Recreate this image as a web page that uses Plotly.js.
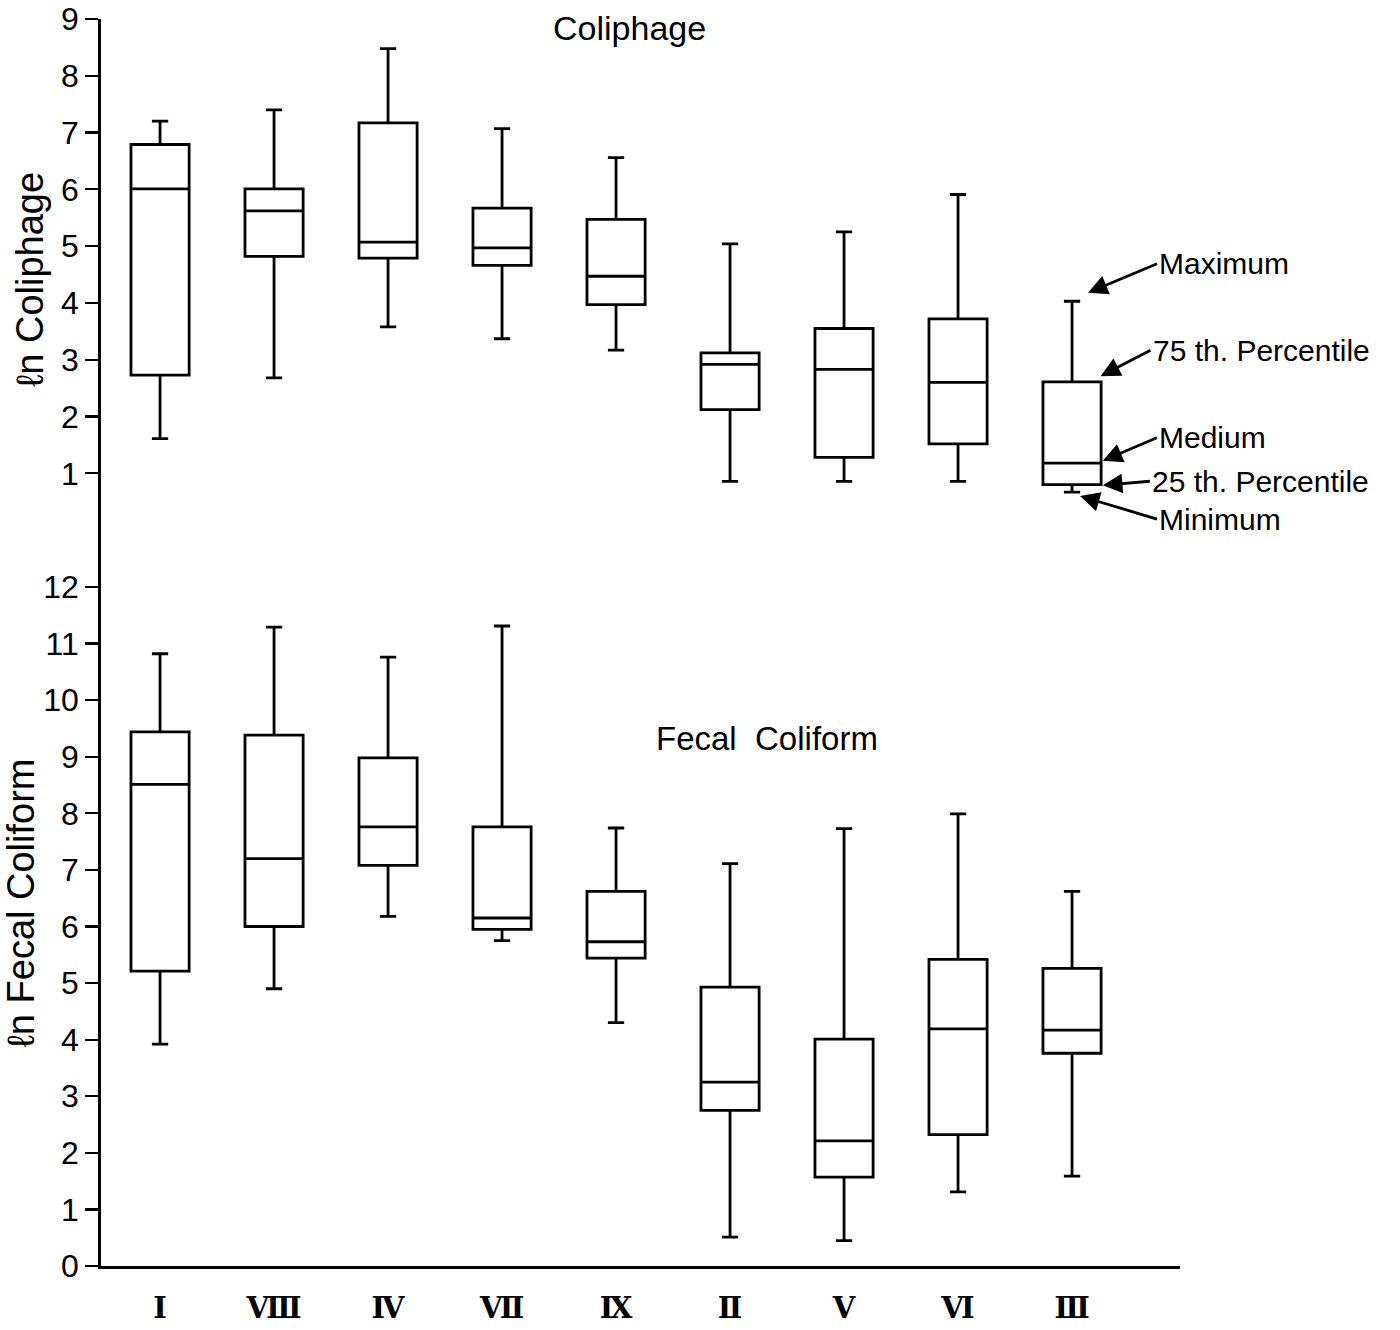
<!DOCTYPE html>
<html>
<head>
<meta charset="utf-8">
<script src="https://cdn.plot.ly/plotly-3.0.1.min.js"></script>
<style>html,body{margin:0;padding:0;background:#fff;}#chart{width:1400px;height:1330px;}</style>
</head>
<body>
<div id="chart"></div>
<script>
// Sites (Roman numerals), in plotted order
const sites = ['Ⅰ', 'Ⅷ', 'Ⅳ', 'Ⅶ', 'Ⅸ', 'Ⅱ', 'Ⅴ', 'Ⅵ', 'Ⅲ'];

// ln Coliphage
const phageMin    = [1.61, 2.68, 3.58, 3.37, 3.17, 0.86, 0.86, 0.86, 0.67];
const phageQ1     = [2.73, 4.82, 4.79, 4.66, 3.97, 2.12, 1.28, 1.52, 0.80];
const phageMedian = [6.01, 5.62, 5.07, 4.97, 4.47, 2.92, 2.83, 2.60, 1.18];
const phageQ3     = [6.79, 6.01, 7.17, 5.67, 5.47, 3.12, 3.55, 3.72, 2.61];
const phageMax    = [7.20, 7.40, 8.48, 7.07, 6.56, 5.04, 5.25, 5.91, 4.03];

// ln Fecal Coliform
const fecalMin    = [3.92, 4.90, 6.18, 5.75, 4.30, 0.51, 0.45, 1.31, 1.59];
const fecalQ1     = [5.21, 6.00, 7.08, 5.95, 5.44, 2.75, 1.57, 2.32, 3.76];
const fecalMedian = [8.51, 7.20, 7.76, 6.15, 5.73, 3.25, 2.21, 4.19, 4.17];
const fecalQ3     = [9.44, 9.38, 8.98, 7.76, 6.62, 4.93, 4.01, 5.42, 5.26];
const fecalMax    = [10.82, 11.29, 10.76, 11.31, 7.74, 7.11, 7.73, 7.99, 6.62];

const yTop = [1, 2, 3, 4, 5, 6, 7, 8, 9];
const yBottom = [0, 1, 2, 3, 4, 5, 6, 7, 8, 9, 10, 11, 12];

const keyLabels = ['Maximum', '75 th. Percentile', 'Medium', '25 th. Percentile', 'Minimum'];

const FONT = 'Liberation Sans, Arial, Helvetica, sans-serif';
const boxStyle = {
  type: 'box',
  boxpoints: false,
  width: 0.51,
  whiskerwidth: 0.28,
  fillcolor: '#ffffff',
  line: {color: '#000000', width: 2.8},
  hoverinfo: 'skip',
  showlegend: false
};

const traces = [
  Object.assign({}, boxStyle, {
    x: sites, lowerfence: phageMin, q1: phageQ1, median: phageMedian, q3: phageQ3, upperfence: phageMax,
    xaxis: 'x2', yaxis: 'y2'
  }),
  Object.assign({}, boxStyle, {
    x: sites, lowerfence: fecalMin, q1: fecalQ1, median: fecalMedian, q3: fecalQ3, upperfence: fecalMax,
    xaxis: 'x', yaxis: 'y'
  })
];

const iLast = sites.length - 1;
const keyAnn = [
  {y: phageMax[iLast] + 0.15, dx: 0.14, ax: 69, ay: -29},
  {y: phageQ3[iLast] + 0.10, dx: 0.25, ax: 50, ay: -26},
  {y: phageMedian[iLast] + 0.04, dx: 0.27, ax: 54, ay: -23},
  {y: phageQ1[iLast] - 0.01, dx: 0.27, ax: 47, ay: -4},
  {y: phageMin[iLast] - 0.07, dx: 0.07, ax: 77, ay: 23}
].map((a, k) => ({
  xref: 'x2', yref: 'y2', x: iLast + a.dx, y: a.y,
  text: keyLabels[k], showarrow: true, ax: a.ax, ay: a.ay,
  xanchor: 'left', yanchor: 'middle',
  arrowhead: 2, arrowsize: 1.4, arrowwidth: 2.8, arrowcolor: '#000',
  font: {family: FONT, size: 30, color: '#000'}
}));

const layout = {
  width: 1400, height: 1330,
  margin: {l: 101, r: 220, t: 19, b: 64},
  paper_bgcolor: '#ffffff', plot_bgcolor: '#ffffff',
  font: {family: FONT, color: '#000'},
  showlegend: false,
  xaxis: {
    anchor: 'y', domain: [0, 1], range: [-0.518, 8.947],
    type: 'category', categoryorder: 'array', categoryarray: sites,
    showline: true, linecolor: '#000', linewidth: 2.8,
    ticks: '', showgrid: false, zeroline: false,
    ticklabelstandoff: 14,
    tickfont: {family: 'DejaVu Serif, Liberation Serif, serif', size: 29, color: '#000', weight: 'bold'}
  },
  xaxis2: {
    anchor: 'y2', matches: 'x', visible: false,
    type: 'category', categoryorder: 'array', categoryarray: sites
  },
  yaxis: {
    anchor: 'x', domain: [0, 0.5822], range: [0, 12.83],
    tickmode: 'array', tickvals: yBottom, ticktext: yBottom.map(String),
    showline: true, linecolor: '#000', linewidth: 2.8,
    ticks: 'outside', ticklen: 13, tickwidth: 2.2, tickcolor: '#000',
    showgrid: false, zeroline: false,
    tickfont: {family: FONT, size: 32, color: '#000'},
    title: {text: 'ℓn Fecal Coliform', font: {family: FONT, size: 38, color: '#000'}, standoff: 6}
  },
  yaxis2: {
    anchor: 'x2', domain: [0.5822, 1], range: [-0.174, 9],
    tickmode: 'array', tickvals: yTop, ticktext: yTop.map(String),
    showline: true, linecolor: '#000', linewidth: 2.8,
    ticks: 'outside', ticklen: 13, tickwidth: 2.2, tickcolor: '#000',
    showgrid: false, zeroline: false,
    tickfont: {family: FONT, size: 32, color: '#000'},
    title: {text: 'ℓn Coliphage', font: {family: FONT, size: 38, color: '#000'}, standoff: 6}
  },
  annotations: [
    {xref: 'paper', yref: 'paper', x: 0.490, y: 0.9928, text: 'Coliphage', showarrow: false,
     xanchor: 'center', yanchor: 'middle', font: {family: FONT, size: 34, color: '#000'}},
    {xref: 'paper', yref: 'paper', x: 0.617, y: 0.4234, text: 'Fecal  Coliform', showarrow: false,
     xanchor: 'center', yanchor: 'middle', font: {family: FONT, size: 33, color: '#000'}}
  ].concat(keyAnn)
};

Plotly.newPlot('chart', traces, layout, {displayModeBar: false, staticPlot: true});
</script>
</body>
</html>
